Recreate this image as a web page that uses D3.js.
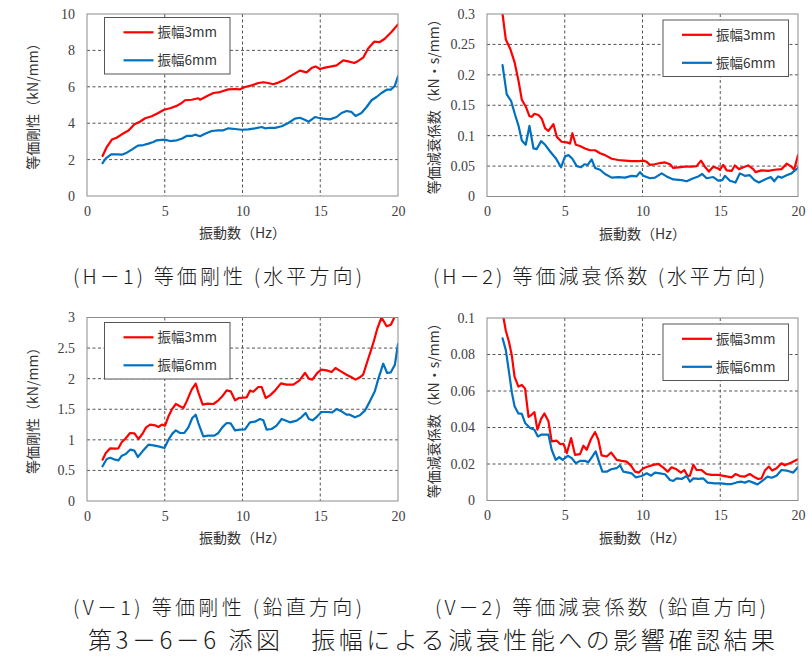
<!DOCTYPE html>
<html><head><meta charset="utf-8">
<script src="https://cdn.jsdelivr.net/npm/d3@7"></script>
<style>
html,body{margin:0;padding:0;background:#fff;}
svg{display:block;}
</style></head>
<body>
<svg id="chart" width="811" height="656"></svg>
<script>
// ---------- data ----------
const freqTicks = [0, 5, 10, 15, 20];
const seriesNames = ["振幅3mm", "振幅6mm"];
const seriesColors = ["#ff0000", "#0070c0"];

const h1Ticks = [0, 2, 4, 6, 8, 10];
const h2Ticks = [0, 0.05, 0.1, 0.15, 0.2, 0.25, 0.3];
const v1Ticks = [0, 0.5, 1, 1.5, 2, 2.5, 3];
const v2Ticks = [0, 0.02, 0.04, 0.06, 0.08, 0.1];

const h1Amp3 = [[1.0,2.2],[1.27,2.69],[1.6,3.1],[1.9,3.2],[2.24,3.39],[2.67,3.6],[3.05,3.94],[3.4,4.08],[3.74,4.27],[4.16,4.38],[4.49,4.52],[4.96,4.74],[5.34,4.82],[5.77,4.95],[6.09,5.11],[6.3,5.26],[6.73,5.29],[7.16,5.37],[7.27,5.29],[7.7,5.48],[8.13,5.66],[8.55,5.71],[9.09,5.86],[9.52,5.88],[9.84,5.86],[10.16,5.99],[10.59,6.08],[11.02,6.21],[11.34,6.25],[11.66,6.21],[11.98,6.14],[12.3,6.23],[12.73,6.39],[13.16,6.63],[13.69,6.89],[14.12,6.79],[14.44,7.03],[14.7,7.12],[14.98,6.98],[15.3,7.05],[15.73,7.12],[16.05,7.18],[16.48,7.45],[16.8,7.4],[17.19,7.31],[17.44,7.42],[17.76,7.6],[18.08,8.1],[18.47,8.48],[18.83,8.46],[19.15,8.64],[19.58,9.01],[20.0,9.43]];
const h1Amp6 = [[1.0,1.81],[1.21,2.07],[1.55,2.29],[1.92,2.29],[2.24,2.27],[2.56,2.38],[2.88,2.55],[3.27,2.77],[3.63,2.8],[3.95,2.88],[4.27,2.97],[4.49,3.06],[4.98,3.1],[5.34,3.02],[5.77,3.06],[6.09,3.15],[6.41,3.3],[6.73,3.3],[6.95,3.37],[7.27,3.28],[7.59,3.42],[8.02,3.57],[8.45,3.61],[8.77,3.61],[9.09,3.72],[9.52,3.68],[9.95,3.64],[10.37,3.66],[10.8,3.72],[11.23,3.79],[11.45,3.72],[11.77,3.75],[12.09,3.74],[12.52,3.83],[12.95,4.01],[13.37,4.25],[13.69,4.3],[14.0,4.19],[14.26,4.08],[14.66,4.34],[14.87,4.3],[15.19,4.25],[15.62,4.21],[16.05,4.34],[16.37,4.56],[16.69,4.67],[17.01,4.62],[17.27,4.4],[17.65,4.56],[17.98,4.89],[18.3,5.26],[18.62,5.44],[18.94,5.66],[19.27,5.84],[19.54,5.84],[19.8,6.06],[20.0,6.58]];

const h2Amp3 = [[1.0,0.30],[1.21,0.258],[1.49,0.243],[1.77,0.221],[2.02,0.191],[2.24,0.159],[2.49,0.148],[2.73,0.132],[2.88,0.131],[3.05,0.136],[3.31,0.134],[3.52,0.128],[3.74,0.112],[3.95,0.108],[4.27,0.119],[4.49,0.098],[4.8,0.09],[5.13,0.089],[5.34,0.087],[5.49,0.104],[5.71,0.085],[5.98,0.083],[6.3,0.079],[6.63,0.076],[6.95,0.076],[7.27,0.071],[7.59,0.068],[8.02,0.062],[8.45,0.060],[8.87,0.059],[9.3,0.058],[9.73,0.058],[10.05,0.059],[10.27,0.057],[10.48,0.052],[10.8,0.053],[11.12,0.055],[11.45,0.056],[11.77,0.053],[11.98,0.047],[12.3,0.048],[12.73,0.049],[13.16,0.049],[13.48,0.050],[13.76,0.059],[14.01,0.049],[14.27,0.041],[14.55,0.049],[14.87,0.046],[14.98,0.044],[15.19,0.052],[15.41,0.043],[15.73,0.042],[15.94,0.051],[16.2,0.045],[16.48,0.048],[16.8,0.051],[17.12,0.045],[17.27,0.040],[17.65,0.043],[18.08,0.042],[18.51,0.044],[18.94,0.045],[19.27,0.054],[19.58,0.049],[19.75,0.044],[20.0,0.068]];
const h2Amp6 = [[1.0,0.216],[1.27,0.168],[1.55,0.157],[1.81,0.134],[2.02,0.117],[2.24,0.092],[2.49,0.085],[2.73,0.116],[2.99,0.079],[3.2,0.078],[3.48,0.091],[3.74,0.085],[4.06,0.074],[4.42,0.063],[4.76,0.048],[5.02,0.066],[5.24,0.068],[5.49,0.062],[5.77,0.050],[6.05,0.048],[6.26,0.053],[6.48,0.052],[6.73,0.061],[6.95,0.047],[7.27,0.044],[7.59,0.037],[8.02,0.031],[8.45,0.032],[8.87,0.031],[9.3,0.034],[9.62,0.033],[9.84,0.040],[10.05,0.034],[10.48,0.030],[10.8,0.031],[11.23,0.038],[11.55,0.033],[11.98,0.028],[12.52,0.027],[12.84,0.025],[13.27,0.030],[13.59,0.033],[13.84,0.037],[14.12,0.030],[14.55,0.032],[14.87,0.026],[15.13,0.027],[15.3,0.034],[15.62,0.026],[15.98,0.023],[16.26,0.038],[16.58,0.034],[16.9,0.035],[17.19,0.027],[17.48,0.023],[17.87,0.028],[18.25,0.032],[18.47,0.025],[18.72,0.033],[18.94,0.031],[19.27,0.035],[19.58,0.038],[20.0,0.047]];

const v1Amp3 = [[1.0,0.676],[1.21,0.785],[1.49,0.861],[1.81,0.856],[2.02,0.861],[2.24,0.965],[2.45,1.014],[2.77,1.112],[3.05,1.106],[3.31,1.014],[3.57,1.1],[3.8,1.204],[4.06,1.248],[4.38,1.237],[4.59,1.21],[4.81,1.248],[5.02,1.232],[5.24,1.384],[5.45,1.493],[5.71,1.586],[5.98,1.548],[6.2,1.52],[6.41,1.629],[6.73,1.82],[6.99,1.918],[7.16,1.777],[7.44,1.575],[7.76,1.591],[8.13,1.586],[8.45,1.646],[8.7,1.711],[8.98,1.809],[9.24,1.793],[9.52,1.646],[9.77,1.684],[10.05,1.689],[10.27,1.695],[10.48,1.804],[10.69,1.787],[11.02,1.864],[11.23,1.864],[11.49,1.684],[11.77,1.727],[12.09,1.804],[12.47,1.924],[12.84,1.902],[13.27,1.902],[13.65,1.967],[14.02,2.093],[14.27,2.0],[14.49,1.984],[14.81,2.093],[15.08,2.147],[15.41,2.136],[15.73,2.109],[15.98,2.174],[16.33,2.12],[16.69,2.065],[17.01,2.022],[17.27,1.984],[17.55,2.022],[17.76,2.065],[18.08,2.322],[18.4,2.572],[18.68,2.828],[18.94,3.0],[19.27,2.856],[19.54,2.883],[19.8,3.02]];
const v1Amp6 = [[1.0,0.567],[1.27,0.687],[1.49,0.708],[1.81,0.676],[2.02,0.665],[2.24,0.741],[2.49,0.768],[2.77,0.839],[3.05,0.823],[3.27,0.719],[3.57,0.812],[3.95,0.921],[4.27,0.91],[4.59,0.894],[4.98,0.866],[5.24,1.003],[5.49,1.101],[5.71,1.155],[5.98,1.112],[6.26,1.112],[6.52,1.204],[6.77,1.357],[6.99,1.411],[7.16,1.275],[7.48,1.057],[7.8,1.068],[8.19,1.068],[8.45,1.112],[8.7,1.204],[8.98,1.275],[9.24,1.27],[9.52,1.155],[9.84,1.166],[10.16,1.172],[10.48,1.286],[10.8,1.297],[11.12,1.341],[11.34,1.319],[11.55,1.166],[11.87,1.177],[12.19,1.232],[12.52,1.341],[12.73,1.319],[13.05,1.286],[13.48,1.313],[13.8,1.373],[14.06,1.439],[14.27,1.341],[14.51,1.319],[14.81,1.384],[15.08,1.455],[15.41,1.455],[15.77,1.45],[16.05,1.504],[16.37,1.466],[16.69,1.411],[16.9,1.411],[17.23,1.368],[17.55,1.401],[17.87,1.477],[18.19,1.629],[18.51,1.793],[18.72,1.984],[19.05,2.245],[19.3,2.093],[19.54,2.104],[19.8,2.229],[20.0,2.567]];

const v2Amp3 = [[1.0,0.103],[1.21,0.093],[1.42,0.0867],[1.6,0.0793],[1.77,0.0679],[2.02,0.0624],[2.24,0.0633],[2.45,0.0613],[2.67,0.0458],[2.88,0.0471],[3.05,0.0484],[3.24,0.0388],[3.48,0.0447],[3.69,0.0477],[3.95,0.0434],[4.16,0.0324],[4.49,0.0328],[4.7,0.0309],[4.92,0.0311],[5.13,0.0259],[5.41,0.0342],[5.66,0.025],[5.98,0.0254],[6.2,0.03],[6.41,0.0278],[6.69,0.0337],[6.95,0.0375],[7.16,0.0333],[7.37,0.0247],[7.7,0.0241],[7.98,0.0263],[8.34,0.0223],[8.66,0.0217],[8.98,0.0213],[9.26,0.0191],[9.52,0.0158],[9.77,0.0153],[10.05,0.0177],[10.37,0.0186],[10.69,0.0195],[11.02,0.0201],[11.34,0.018],[11.62,0.0158],[11.87,0.0182],[12.19,0.0171],[12.47,0.0153],[12.69,0.0167],[12.9,0.0134],[13.05,0.0136],[13.27,0.0195],[13.48,0.0167],[13.8,0.0167],[14.12,0.0145],[14.44,0.014],[14.87,0.014],[15.3,0.0134],[15.73,0.0127],[15.98,0.0145],[16.26,0.0134],[16.58,0.0131],[16.9,0.0145],[17.23,0.0127],[17.44,0.0118],[17.65,0.0121],[17.87,0.0164],[18.13,0.0186],[18.34,0.0164],[18.62,0.0177],[18.94,0.0204],[19.15,0.0193],[19.58,0.0208],[20.0,0.0226]];
const v2Amp6 = [[1.0,0.0889],[1.21,0.0824],[1.42,0.0701],[1.6,0.0591],[1.77,0.0517],[2.02,0.0477],[2.24,0.0475],[2.45,0.0425],[2.77,0.0397],[3.05,0.0388],[3.27,0.0351],[3.52,0.0361],[3.74,0.0361],[3.95,0.0361],[4.16,0.0278],[4.42,0.0223],[4.64,0.0237],[4.87,0.0223],[5.19,0.0245],[5.45,0.0232],[5.71,0.0204],[5.98,0.0217],[6.3,0.0217],[6.52,0.021],[6.77,0.0241],[6.99,0.0269],[7.2,0.0213],[7.42,0.0158],[7.7,0.0158],[7.98,0.0171],[8.34,0.0177],[8.55,0.0193],[8.77,0.0158],[9.09,0.0153],[9.3,0.0149],[9.56,0.0127],[9.95,0.0134],[10.27,0.0149],[10.55,0.0136],[10.8,0.0153],[11.12,0.0149],[11.45,0.0144],[11.77,0.0112],[11.98,0.0107],[12.19,0.0121],[12.52,0.0118],[12.84,0.0134],[13.05,0.0103],[13.27,0.0121],[13.59,0.0118],[13.91,0.0121],[14.19,0.0098],[14.66,0.0094],[15.08,0.0094],[15.41,0.009],[15.73,0.009],[16.05,0.0099],[16.37,0.0103],[16.58,0.0098],[16.84,0.0107],[17.12,0.0098],[17.4,0.0088],[17.7,0.0107],[18.04,0.0131],[18.3,0.0125],[18.62,0.0136],[18.94,0.0167],[19.27,0.0164],[19.69,0.0153],[20.0,0.0182]];

const xLabel = "振動数（Hz）";
const yLabelStiff = "等価剛性（kN/mm）";
const yLabelDamp = "等価減衰係数（kN・s/mm）";
const captions = ["(H－1) 等価剛性 (水平方向)", "(H－2) 等価減衰係数 (水平方向)", "(V－1) 等価剛性 (鉛直方向)", "(V－2) 等価減衰係数 (鉛直方向)"];
const figTitle = "第3－6－6 添図　振幅による減衰性能への影響確認結果";

// ---------- layout ----------
const panels = [
  {x0: 87, x1: 398, y0: 14, y1: 196, ticks: h1Ticks, series: [h1Amp3, h1Amp6], ylabel: yLabelStiff, ylx: 33, legend: {x: 104.5, y: 17.5}, cap: captions[0], capX: 73, capW: 289, capY: 284},
  {x0: 487, x1: 798, y0: 14, y1: 196.5, ticks: h2Ticks, series: [h2Amp3, h2Amp6], ylabel: yLabelDamp, ylx: 434, legend: {x: 663, y: 20}, cap: captions[1], capX: 433, capW: 332, capY: 284},
  {x0: 87, x1: 398, y0: 317.5, y1: 501, ticks: v1Ticks, series: [v1Amp3, v1Amp6], ylabel: yLabelStiff, ylx: 33, legend: {x: 104.5, y: 322.5}, cap: captions[2], capX: 73, capW: 289, capY: 615},
  {x0: 487, x1: 798, y0: 318, y1: 500.5, ticks: v2Ticks, series: [v2Amp3, v2Amp6], ylabel: yLabelDamp, ylx: 434, legend: {x: 663, y: 324}, cap: captions[3], capX: 435, capW: 331, capY: 615}
];

const svg = d3.select("#chart");
const cjk = "'Noto Sans CJK JP', 'Noto Sans', sans-serif";
const numFont = "'Liberation Serif', 'DejaVu Serif', serif";

panels.forEach((p, i) => {
  const x = d3.scaleLinear().domain([0, 20]).range([p.x0, p.x1]);
  const yMax = p.ticks[p.ticks.length - 1];
  const y = d3.scaleLinear().domain([0, yMax]).range([p.y1, p.y0]);
  const g = svg.append("g");

  // grid
  g.selectAll(".vg").data(freqTicks.slice(1, -1)).join("line")
    .attr("x1", d => x(d)).attr("x2", d => x(d)).attr("y1", p.y0).attr("y2", p.y1)
    .attr("stroke", "#555").attr("stroke-width", 1).attr("stroke-dasharray", "3,2.5");
  g.selectAll(".hg").data(p.ticks.slice(1, -1)).join("line")
    .attr("x1", p.x0).attr("x2", p.x1).attr("y1", d => y(d)).attr("y2", d => y(d))
    .attr("stroke", "#555").attr("stroke-width", 1).attr("stroke-dasharray", "3,2.5");

  // axes (labels only)
  const ax = g.append("g").attr("transform", `translate(0,${p.y1})`)
    .call(d3.axisBottom(x).tickValues(freqTicks).tickSize(0).tickPadding(10).tickFormat(d3.format("d")));
  const ay = g.append("g").attr("transform", `translate(${p.x0},0)`)
    .call(d3.axisLeft(y).tickValues(p.ticks).tickSize(0).tickPadding(12).tickFormat(d => String(d)));
  [ax, ay].forEach(a => {
    a.select(".domain").remove();
    a.selectAll("text").attr("font-family", numFont).attr("font-size", 14).attr("fill", "#404040");
  });

  // clip
  const cid = "clip" + i;
  svg.append("clipPath").attr("id", cid).append("rect")
    .attr("x", p.x0).attr("y", p.y0).attr("width", p.x1 - p.x0).attr("height", p.y1 - p.y0);

  const line = d3.line().x(d => x(d[0])).y(d => y(d[1]));
  p.series.forEach((s, k) => {
    g.append("path").datum(s).attr("d", line)
      .attr("fill", "none").attr("stroke", seriesColors[k]).attr("stroke-width", 2.2)
      .attr("stroke-linejoin", "round").attr("stroke-linecap", "round")
      .attr("clip-path", `url(#${cid})`);
  });

  // border
  g.append("rect").attr("x", p.x0).attr("y", p.y0).attr("width", p.x1 - p.x0).attr("height", p.y1 - p.y0)
    .attr("fill", "none").attr("stroke", "#8c8c8c").attr("stroke-width", 1);

  // legend
  const lg = g.append("g").attr("transform", `translate(${p.legend.x},${p.legend.y})`);
  lg.append("rect").attr("width", 125.5).attr("height", 56.5).attr("fill", "#fff").attr("stroke", "#555").attr("stroke-width", 1);
  seriesNames.forEach((n, k) => {
    const ly = 14.8 + k * 28;
    lg.append("line").attr("x1", 19).attr("x2", 49).attr("y1", ly).attr("y2", ly)
      .attr("stroke", seriesColors[k]).attr("stroke-width", 2.2);
    lg.append("text").attr("x", 53).attr("y", ly).attr("dy", "0.36em")
      .attr("font-family", cjk).attr("font-size", 13.5).attr("fill", "#333").text(n);
  });

  // axis titles
  g.append("text").attr("x", (p.x0 + p.x1) / 2).attr("y", p.y1 + 37).attr("dy", "0.36em")
    .attr("text-anchor", "middle").attr("font-family", cjk).attr("font-size", 14).attr("fill", "#333").text(xLabel);
  g.append("text").attr("transform", `translate(${p.ylx},${(p.y0 + p.y1) / 2 - 2}) rotate(-90)`)
    .attr("dy", "0.36em").attr("text-anchor", "middle").attr("font-family", cjk).attr("font-size", 14).attr("fill", "#333").text(p.ylabel);

  // caption
  svg.append("text").attr("x", p.capX).attr("y", p.capY)
    .attr("textLength", p.capW).attr("lengthAdjust", "spacing")
    .attr("font-family", cjk).attr("font-size", 20).attr("font-weight", 300).attr("fill", "#1a1a1a").text(p.cap);
});

svg.append("text").attr("x", 88).attr("y", 649)
  .attr("textLength", 687).attr("lengthAdjust", "spacing")
  .attr("font-family", cjk).attr("font-size", 24).attr("font-weight", 300).attr("fill", "#1a1a1a").text(figTitle);
</script>
</body></html>
